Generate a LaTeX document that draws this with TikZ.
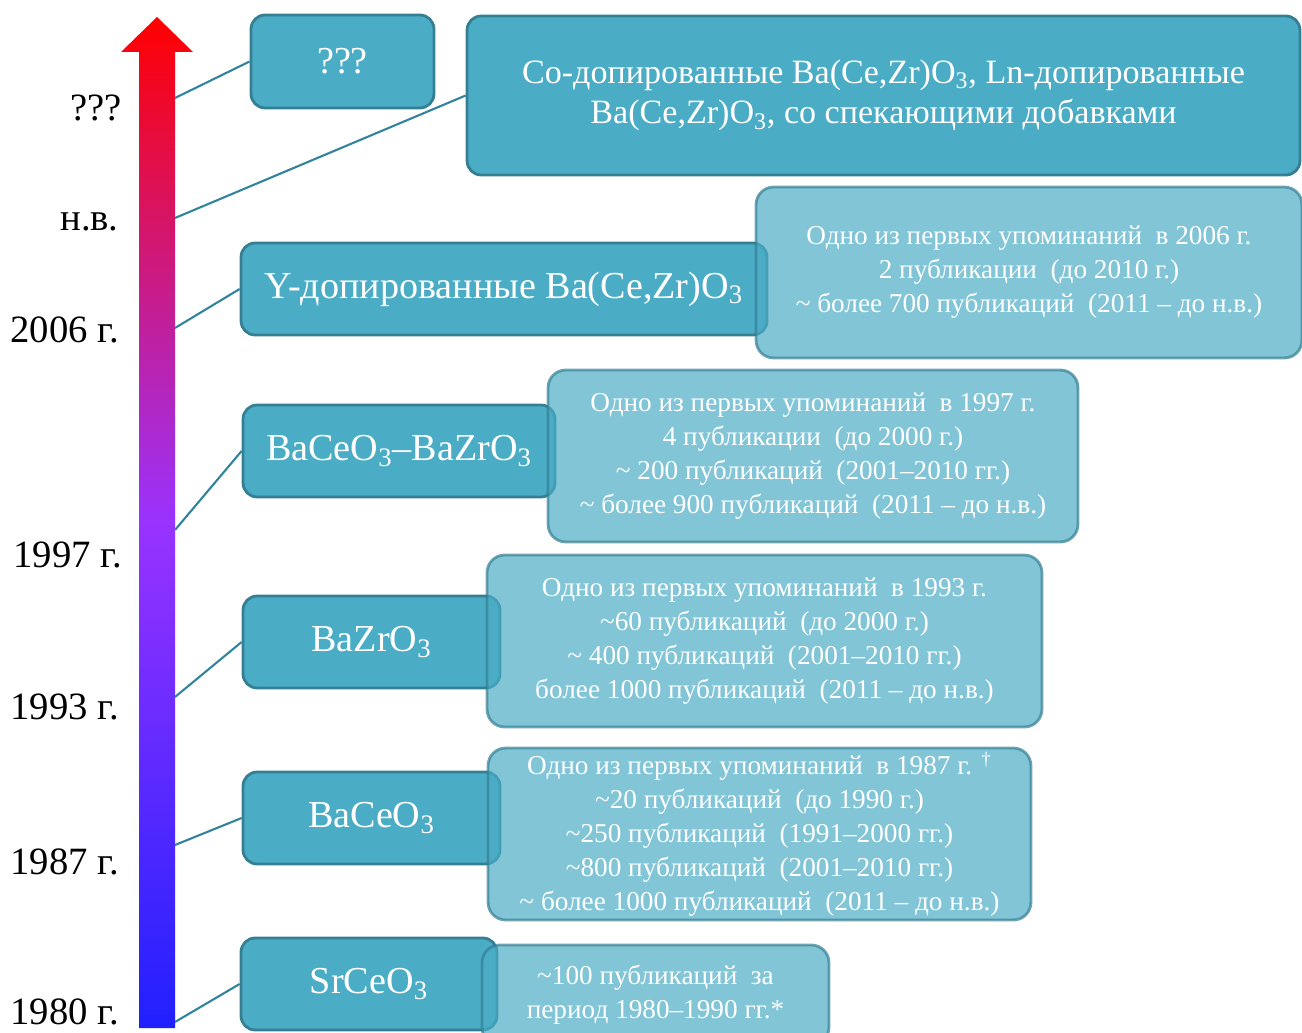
\documentclass[tikz,border=0pt]{standalone}
\usepackage{fontspec}
\setmainfont{Liberation Serif}
\definecolor{boxfill}{HTML}{4BACC6}
\definecolor{boxline}{HTML}{357F93}
\definecolor{linkline}{HTML}{31849B}
\definecolor{arrowred}{HTML}{FF0000}
\definecolor{arrowviolet}{HTML}{9933FF}
\definecolor{arrowblue}{HTML}{2020FF}
\newcommand{\bigtxt}{\fontsize{21.7}{26}\selectfont}
\newcommand{\widetxt}{\fontsize{19.4}{23}\selectfont}
\newcommand{\smalltxt}{\fontsize{15.5}{19.3}\selectfont}
\newcommand{\sub}[1]{\textsubscript{#1}}

\begin{document}
\begin{tikzpicture}[x=0.02cm, y=-0.02cm,
    yearlbl/.style={anchor=east, inner sep=0pt, font=\fontsize{22}{26}\selectfont},
    darkbox/.style={draw=boxline, line width=1.6pt, fill=boxfill, rounded corners=8pt,
                    text=white, align=center, font=\bigtxt, inner sep=0pt},
    lightbox/.style={draw=boxline, draw opacity=0.7, line width=1.6pt, fill=boxfill,
                     fill opacity=0.7, text opacity=1, rounded corners=10pt,
                     text=white, align=center, font=\smalltxt, inner sep=0pt},
    link/.style={draw=linkline, line width=1.2pt}]
\useasboundingbox (0,0) rectangle (1302,1033);

\shade[bottom color=arrowblue, top color=arrowred, middle color=arrowviolet]
  (139,1028) -- (139,52) -- (121,52) -- (157,17) -- (193,52) -- (175,52) -- (175,1028) -- cycle;

\node[yearlbl] (lblq)    at (122,108)  {???};
\node[yearlbl] (lblnow)  at (119,222)  {н.в.};
\node[yearlbl] (lbl2006) at (119,330)  {2006 г.};
\node[yearlbl] (lbl1997) at (122,555)  {1997 г.};
\node[yearlbl] (lbl1993) at (119,707)  {1993 г.};
\node[yearlbl] (lbl1987) at (119,862)  {1987 г.};
\node[yearlbl] (lbl1980) at (119,1012) {1980 г.};

\coordinate (tq)    at (175,98);
\coordinate (tnow)  at (175,218);
\coordinate (t2006) at (175,328);
\coordinate (t1997) at (175,530);
\coordinate (t1993) at (175,697);
\coordinate (t1987) at (175,845);
\coordinate (t1980) at (175,1022);

\node[darkbox, minimum width=3.66cm, minimum height=1.86cm] (unknown) at (342.5,61.5) {???};
\node[darkbox, font=\widetxt, minimum width=16.66cm, minimum height=3.18cm] (codoped) at (883.5,95.5)
  {Со-допированные Ba(Ce,Zr)O\sub{3}, Ln-допированные\\Ba(Ce,Zr)O\sub{3}, со спекающими добавками};
\node[darkbox, minimum width=10.52cm, minimum height=1.84cm] (ydoped) at (504,289)
  {Y-допированные Ba(Ce,Zr)O\sub{3}};
\node[darkbox, minimum width=6.24cm, minimum height=1.84cm] (mixed) at (399,451)
  {BaCeO\sub{3}–BaZrO\sub{3}};
\node[darkbox, minimum width=5.14cm, minimum height=1.84cm] (bazro) at (371.5,642) {BaZrO\sub{3}};
\node[darkbox, minimum width=5.14cm, minimum height=1.84cm] (baceo) at (371.5,818) {BaCeO\sub{3}};
\node[darkbox, minimum width=5.12cm, minimum height=1.84cm] (srceo) at (369,984) {SrCeO\sub{3}};

\node[lightbox, minimum width=10.92cm, minimum height=3.42cm] (info2006) at (1029,272.5)
  {Одно из первых упоминаний\ \ в 2006 г.\\2 публикации\ \ (до 2010 г.)\\\textasciitilde\ более 700 публикаций\ \ (2011 – до н.в.)};
\node[lightbox, minimum width=10.6cm, minimum height=3.44cm] (info1997) at (813,456)
  {Одно из первых упоминаний\ \ в 1997 г.\\4 публикации\ \ (до 2000 г.)\\\textasciitilde\ 200 публикаций\ \ (2001–2010 гг.)\\\textasciitilde\ более 900 публикаций\ \ (2011 – до н.в.)};
\node[lightbox, minimum width=11.1cm, minimum height=3.44cm] (info1993) at (764.5,641)
  {Одно из первых упоминаний\ \ в 1993 г.\\\textasciitilde 60 публикаций\ \ (до 2000 г.)\\\textasciitilde\ 400 публикаций\ \ (2001–2010 гг.)\\более 1000 публикаций\ \ (2011 – до н.в.)};
\node[lightbox, minimum width=10.86cm, minimum height=3.44cm] (info1987) at (759.5,834)
  {Одно из первых упоминаний\ \ в 1987 г. \textsuperscript{†}\\\textasciitilde 20 публикаций\ \ (до 1990 г.)\\\textasciitilde 250 публикаций\ \ (1991–2000 гг.)\\\textasciitilde 800 публикаций\ \ (2001–2010 гг.)\\\textasciitilde\ более 1000 публикаций\ \ (2011 – до н.в.)};
\node[lightbox, minimum width=6.94cm, minimum height=2.0cm] (info1980) at (655.5,995)
  {\textasciitilde 100 публикаций\ \ за\\период 1980–1990 гг.*};

\draw[link] (tq) -- (unknown.west);
\draw[link] (tnow) -- (codoped.west);
\draw[link] (t2006) -- (ydoped.west);
\draw[link] (t1997) -- (mixed.west);
\draw[link] (t1993) -- (bazro.west);
\draw[link] (t1987) -- (baceo.west);
\draw[link] (t1980) -- (srceo.west);
\end{tikzpicture}
\end{document}
